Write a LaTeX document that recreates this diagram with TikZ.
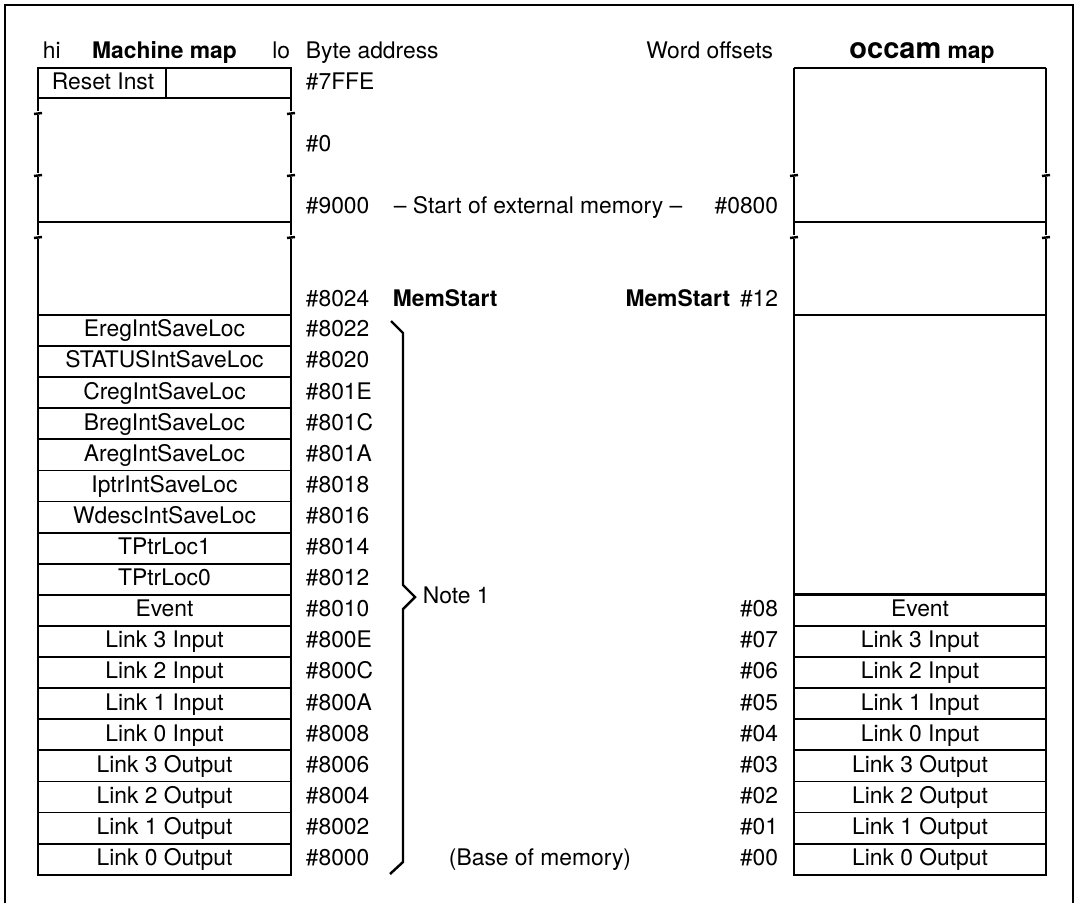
\documentclass[tikz,border=0pt]{standalone}
\usepackage{fontspec}
\setmainfont{TeX Gyre Heros}
\usetikzlibrary{positioning}

\begin{document}
\begin{tikzpicture}[x=0.02cm,y=-0.02cm,line width=1pt,
  every node/.style={font=\fontsize{13}{15}\selectfont,
    text height=0.72em,text depth=0pt,inner sep=0pt}]
 \tikzstyle{cell}=[rectangle,draw=black,minimum width=5.05cm,minimum height=0.622cm]
 \tikzstyle{addr}=[anchor=west]
 \tikzstyle{offs}=[anchor=east]
 \tikzstyle{brk}=[line width=1.4pt]
 \useasboundingbox (0,0) rectangle (1077,903);
 % frame, open at the foot
 \draw (5,903) -- (5,5) -- (1073,5) -- (1073,903);

 % headings
 \node[anchor=west] (hi) at (42,52.5) {hi};
 \node (mtitle) at (164.5,52.5) {\bfseries Machine map};
 \node[anchor=east] (lo) at (291,52.5) {lo};
 \node[addr] (bytehd) at (305,52.5) {Byte address};
 \node[offs] (wordhd) at (774,52.5) {Word offsets};
 \node (otitle) at (922,52.5) {\bfseries{\fontsize{16.5}{18}\selectfont occam} map};

 % machine map, cut part
 \node[cell,minimum height=0.6cm] (rst) at (164.5,83) {};
 \node (rsttxt) at (103,83) {Reset Inst};
 \draw (166,68) -- (166,98);
 \foreach \x in {38,291} {
   \draw (\x,98) -- (\x,111) (\x,114.5) -- (\x,173) (\x,176.5) -- (\x,235)
     (\x,238.5) -- (\x,315);
   \foreach \y in {113,175,237}
     \draw[brk] (\x-4,\y+1) -- (\x+4,\y);
 }
 \draw (38,222) -- (291,222);

 % machine map, reserved words
 \foreach \lbl [count=\i from 0] in {EregIntSaveLoc,STATUSIntSaveLoc,
     CregIntSaveLoc,BregIntSaveLoc,AregIntSaveLoc,IptrIntSaveLoc,
     WdescIntSaveLoc,TPtrLoc1,TPtrLoc0,Event,Link 3 Input,Link 2 Input,
     Link 1 Input,Link 0 Input,Link 3 Output,Link 2 Output,Link 1 Output,
     Link 0 Output}
   \node[cell] (m\i) at (164.5,{330.5+31.1*\i}) {\lbl};

 % byte addresses
 \node[addr] (a7ffe) at (305,83.5) {\#7FFE};
 \node[addr] (a0) at (305,145.5) {\#0};
 \node[addr] (a9000) at (305,207) {\#9000};
 \node[addr] (a8024) at (305,300) {\#8024};
 \foreach \adr [count=\i from 0] in {8022,8020,801E,801C,801A,8018,8016,
     8014,8012,8010,800E,800C,800A,8008,8006,8004,8002,8000}
   \node[addr] (a\i) at (305,{330.5+31.1*\i}) {\#\adr};

 \node[addr] (extmem) at (393,207) {-- Start of external memory --};
 \node[offs] (o0800) at (779,207) {\#0800};
 \node[addr] (mstart) at (392,300) {\bfseries MemStart};
 \node[offs] (mstartw) at (731,300) {\bfseries MemStart};
 \node[offs] (o12) at (779,300) {\#12};
 \node (base) at (540,859) {(Base of memory)};

 % brace over the reserved words
 \coordinate (tip) at (415,597);
 \draw[brk] (391,321) -- (403,333) -- (403,585) -- (tip) -- (403,609)
   -- (403,862) -- (390,874);
 \node[right=0.14cm of tip] (note) {Note 1};

 % occam map, cut part
 \draw (794,68) -- (1046,68);
 \foreach \x in {794,1046} {
   \draw (\x,68) -- (\x,173) (\x,176.5) -- (\x,235) (\x,238.5) -- (\x,315);
   \foreach \y in {175,237}
     \draw[brk] (\x-4,\y+1) -- (\x+4,\y);
 }
 \draw (794,222) -- (1046,222);
 \node[cell,minimum height=5.58cm] (wfree) at (920,454.5) {};

 % occam map, words with offsets
 \foreach \lbl/\off [count=\i from 9] in {Event/08,Link 3 Input/07,
     Link 2 Input/06,Link 1 Input/05,Link 0 Input/04,Link 3 Output/03,
     Link 2 Output/02,Link 1 Output/01,Link 0 Output/00} {
   \node[cell] (w\i) at (920,{330.5+31.1*\i}) {\lbl};
   \node[offs] (o\i) at (779,{330.5+31.1*\i}) {\#\off};
 }
\end{tikzpicture}
\end{document}
